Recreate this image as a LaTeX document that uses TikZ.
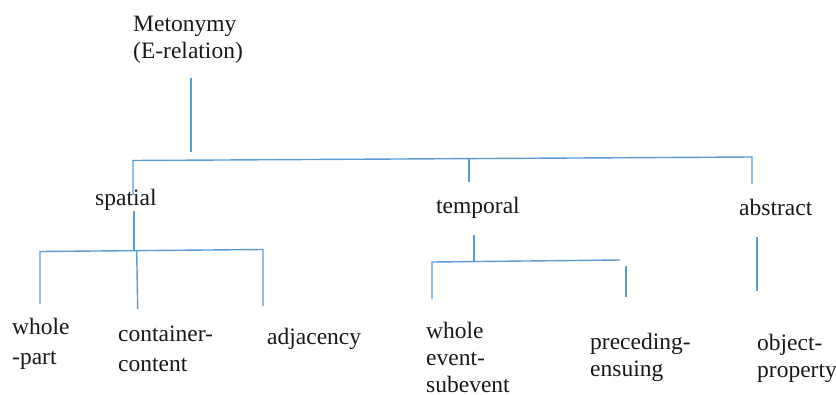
\documentclass[tikz,border=0pt]{standalone}
\usepackage{fontspec}
\setmainfont{Liberation Serif}
\definecolor{lineblue}{HTML}{5B9BD5}
\begin{document}
\begin{tikzpicture}[x=1pt,y=-1pt,
  lbl/.style={anchor=base west, inner sep=0pt, align=left, text=black!90, font=\fontsize{23.5}{27}\selectfont},
  widelbl/.style={lbl, font=\fontsize{23.5}{30}\selectfont},
  ln/.style={draw=lineblue, line width=1.4pt}]
\useasboundingbox (0,0) rectangle (836,394);
% labels (anchor = baseline of the last line)
\node[lbl] (met) at (133,58.3) {Metonymy\\(E-relation)};
\node[lbl] (spatial) at (95,205) {spatial};
\node[lbl] (temporal) at (436,213) {temporal};
\node[lbl] (abstract) at (739,215) {abstract};
\node[widelbl] (wholepart) at (12,364) {whole\\-part};
\node[widelbl] (container) at (118,371.7) {container-\\content};
\node[lbl] (adjacency) at (267,344) {adjacency};
\node[lbl] (wholeevent) at (426,392) {whole\\event-\\subevent};
\node[lbl] (preceding) at (590,376.7) {preceding-\\ensuing};
\node[lbl] (object) at (757,377) {object-\\property};
% junction coordinates
\coordinate (r1) at (191,78);
\coordinate (r2) at (191,152);
\coordinate (bL) at (133,160.5);
\coordinate (bT) at (469,158.5);
\coordinate (bR) at (752,157);
\coordinate (sp1) at (133,195);
\coordinate (te1) at (469,182);
\coordinate (ab1) at (752,184);
% spatial group
\coordinate (s1) at (134,211);
\coordinate (s2) at (134,250.5);
\coordinate (sL) at (40,251.5);
\coordinate (sR) at (263,249.5);
\coordinate (sM1) at (136.7,250.5);
\coordinate (sL2) at (40,304);
\coordinate (sM2) at (137.7,309);
\coordinate (sR2) at (263,306);
% temporal group
\coordinate (t1) at (474,235);
\coordinate (t2) at (474,261);
\coordinate (tL) at (432,262);
\coordinate (tRe) at (620,260);
\coordinate (tL2) at (432,299);
\coordinate (tR1) at (626,266);
\coordinate (tR2) at (626,297);
% abstract group
\coordinate (a1) at (757,237);
\coordinate (a2) at (757,291);
% connectors
\draw[ln] (r1) -- (r2);
\draw[ln] (sp1) -- (bL) -- (bR) -- (ab1);
\draw[ln] (bT) -- (te1);
\draw[ln] (s1) -- (s2);
\draw[ln] (sL2) -- (sL) -- (sR) -- (sR2);
\draw[ln] (sM1) -- (sM2);
\draw[ln] (t1) -- (t2);
\draw[ln] (tL2) -- (tL) -- (tRe);
\draw[ln] (tR1) -- (tR2);
\draw[ln] (a1) -- (a2);
\end{tikzpicture}
\end{document}
